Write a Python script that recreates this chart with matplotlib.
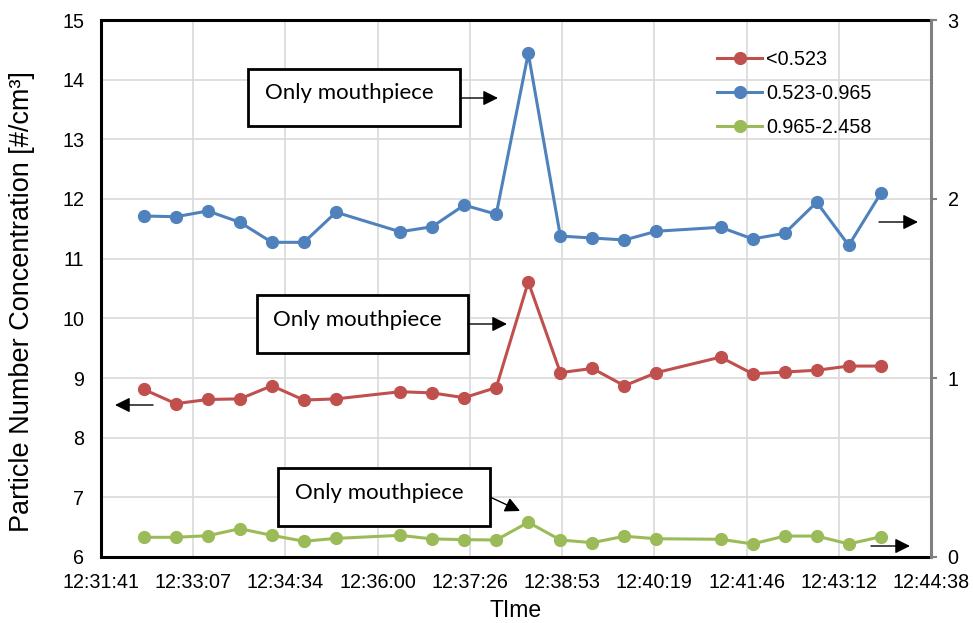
import matplotlib
matplotlib.use("Agg")
import matplotlib.pyplot as plt
from matplotlib.patches import Rectangle, FancyArrowPatch
from matplotlib.transforms import Affine2D

plt.rcParams['font.family'] = ['Liberation Sans', 'DejaVu Sans']

# sample times (30 s steps, two gaps)
times = ['12:32:21', '12:32:51', '12:33:21', '12:33:51', '12:34:21', '12:34:51',
         '12:35:21', '12:36:21', '12:36:51', '12:37:21', '12:37:51', '12:38:21',
         '12:38:51', '12:39:21', '12:39:51', '12:40:21', '12:41:21', '12:41:51',
         '12:42:21', '12:42:51', '12:43:21', '12:43:51']

# <0.523 (left axis)
small = [8.81, 8.57, 8.64, 8.65, 8.87, 8.63, 8.65, 8.77, 8.75, 8.67, 8.84, 10.61,
         9.09, 9.16, 8.87, 9.09, 9.35, 9.07, 9.10, 9.13, 9.20, 9.20]
# 0.523-0.965 (right axis)
mid = [1.905, 1.901, 1.933, 1.870, 1.758, 1.758, 1.926, 1.817, 1.845, 1.966, 1.915, 2.814,
       1.793, 1.782, 1.771, 1.820, 1.842, 1.777, 1.808, 1.982, 1.741, 2.032]
# 0.965-2.458 (right axis)
large = [0.110, 0.110, 0.119, 0.158, 0.121, 0.088, 0.104, 0.121, 0.101, 0.097, 0.095, 0.194,
         0.095, 0.080, 0.116, 0.102, 0.099, 0.073, 0.117, 0.117, 0.073, 0.113]

x_tick_labels = ['12:31:41', '12:33:07', '12:34:34', '12:36:00', '12:37:26',
                 '12:38:53', '12:40:19', '12:41:46', '12:43:12', '12:44:38']
series_names = ['<0.523', '0.523-0.965', '0.965-2.458']


def to_sec(t):
    h, m, s = t.split(':')
    return int(h) * 3600 + int(m) * 60 + int(s)


x = [to_sec(t) for t in times]
x_min = to_sec(x_tick_labels[0])
x_max = to_sec(x_tick_labels[-1])
step = (x_max - x_min) / (len(x_tick_labels) - 1)
x_ticks = [x_min + i * step for i in range(len(x_tick_labels))]

RED = '#C0504D'
BLUE = '#4F81BD'
GREEN = '#9BBB59'

W, H = 973, 623
fig = plt.figure(figsize=(W / 100, H / 100), dpi=100)
ax = fig.add_axes([101 / W, 1 - 557 / H, (931 - 101) / W, (557 - 20) / H])
ax2 = ax.twinx()

l1, = ax.plot(x, small, color=RED, lw=2.2, marker='o', ms=8.5, label=series_names[0])
l2, = ax2.plot(x, mid, color=BLUE, lw=2.2, marker='o', ms=8.5, label=series_names[1])
l3, = ax2.plot(x, large, color=GREEN, lw=2.2, marker='o', ms=8.5, label=series_names[2])

ax.set_xlim(x_min, x_max)
ax.set_xticks(x_ticks)
ax.set_xticklabels(x_tick_labels)
ax.set_ylim(6, 15)
ax.set_yticks(range(6, 16))
ax2.set_ylim(0, 3)
ax2.set_yticks([0, 1, 2, 3])

ax.grid(True, color='#d9d9d9', lw=1.2)
ax.set_axisbelow(True)

ax.tick_params(axis='x', length=0, labelsize=14.2, pad=11.5)
ax.tick_params(axis='y', length=0, labelsize=14.2, pad=12)
ax2.tick_params(axis='y', length=4, width=1.5, color='#808080', labelsize=14.2, pad=8)

for s in ['left', 'bottom', 'top']:
    ax.spines[s].set_linewidth(2.2)
    ax2.spines[s].set_visible(False)
ax.spines['right'].set_visible(False)
ax2.spines['right'].set_color('#808080')
ax2.spines['right'].set_linewidth(2.2)

ax.set_ylabel('Particle Number Concentration [#/cm³]', fontsize=19.5)
ax.yaxis.set_label_coords(-0.079, 0.475)
ax.set_xlabel('TIme', fontsize=16.5)
ax.xaxis.set_label_coords(0.5, -0.078)

leg = fig.legend(handles=[l1, l2, l3], loc='upper left',
                 bbox_to_anchor=(717 / W, 1 - 50 / H), frameon=False,
                 fontsize=14.2, handlelength=2.3, handletextpad=0.2,
                 labelspacing=0.75, borderpad=0, borderaxespad=0)

# annotations, placed in figure pixels from top-left
tr = Affine2D().scale(1 / W, -1 / H).translate(0, 1) + fig.transFigure

boxes = [
    ((248, 69), 212, 57, (265, 93), (461, 98), (498, 98)),
    ((257, 295), 211, 58, (273, 320), (468, 324), (507, 324)),
    ((278, 468), 212, 58, (295, 493), (490, 497), (520, 511)),
]
for (bx, by), bw, bh, (tx, ty), a0, a1 in boxes:
    fig.add_artist(Rectangle((bx, by + bh), bw, -bh, transform=tr, facecolor='white',
                             edgecolor='black', lw=2))
    fig.text(tx, ty, 'Only mouthpiece', transform=tr, fontsize=16, family='Lato',
             ha='left', va='center')
    fig.add_artist(FancyArrowPatch(a0, a1, transform=tr, color='black', lw=1,
                                   arrowstyle='-|>,head_length=0.6,head_width=0.3',
                                   mutation_scale=15, shrinkA=0, shrinkB=0))

# axis pointers
for a0, a1 in [((153, 405), (115, 405)), ((879, 222), (918, 222)), ((871, 546), (910, 546))]:
    fig.add_artist(FancyArrowPatch(a0, a1, transform=tr, color='black', lw=1,
                                   arrowstyle='-|>,head_length=0.6,head_width=0.3',
                                   mutation_scale=15, shrinkA=0, shrinkB=0))

fig.savefig('out.png', dpi=100)
